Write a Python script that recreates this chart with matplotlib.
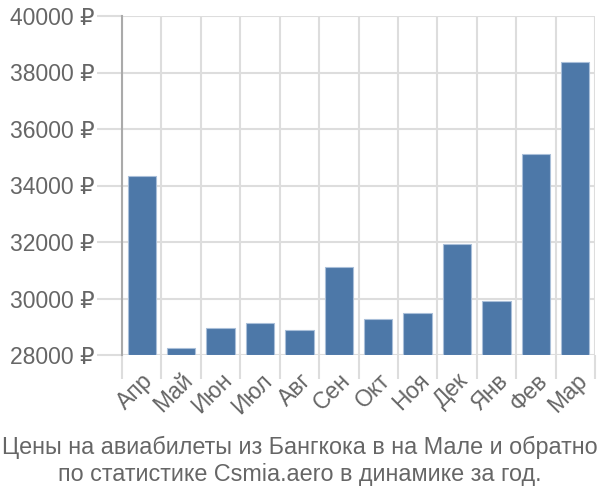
import numpy as np
import matplotlib
matplotlib.use("Agg")
import matplotlib.pyplot as plt

plt.rcParams['font.family'] = ['Liberation Sans', 'DejaVu Sans']

months = ['Апр', 'Май', 'Июн', 'Июл', 'Авг', 'Сен', 'Окт', 'Ноя', 'Дек', 'Янв', 'Фев', 'Мар']
prices = [34320, 28260, 28950, 29130, 28880, 31110, 29270, 29470, 31920, 29920, 35120, 38380]
yticks = [28000, 30000, 32000, 34000, 36000, 38000, 40000]
title = "Цены на авиабилеты из Бангкока в на Мале и обратно\nпо статистике Csmia.aero в динамике за год."

fig = plt.figure(figsize=(6, 5), dpi=100)
ax = fig.add_axes([122/600, 1-355/500, 473/600, 339/500])

x = np.arange(len(months))
ax.bar(x, np.array(prices) - 28000, bottom=28000, width=0.72,
       color='#4d78a8', edgecolor='#a9bfd9', linewidth=0.8, zorder=3)

ax.set_xlim(-0.5, len(months) - 0.5)
ax.set_ylim(28000, 40000)
ax.set_yticks(yticks)
ax.set_yticklabels([f"{v} ₽" for v in yticks], fontsize=16.5, color='#666666')
ax.set_xticks(x)
ax.set_xticklabels(months, rotation=45, ha='right', rotation_mode='anchor',
                   fontsize=16.5, color='#666666')
ax.set_xticks(np.arange(len(months) + 1) - 0.5, minor=True)

ax.tick_params(axis='x', which='major', length=0, pad=10)
ax.tick_params(axis='x', which='minor', length=17, color='#dddddd', width=1.5)
ax.tick_params(axis='y', length=18, color='#dddddd', width=1.5, pad=2)

ax.grid(True, axis='y', color='#dddddd', linewidth=1.5, zorder=0)
ax.grid(True, axis='x', which='minor', color='#dddddd', linewidth=1.5, zorder=0)

for s in ['top', 'right', 'bottom']:
    ax.spines[s].set_visible(False)
ax.spines['left'].set_color('#aaaaaa')
ax.spines['left'].set_linewidth(1.5)

fig.text(0.5, 1 - 461/500, title, ha='center', va='center', fontsize=16.8,
         color='#666666', linespacing=1.25)

fig.savefig('out.png', dpi=100)
